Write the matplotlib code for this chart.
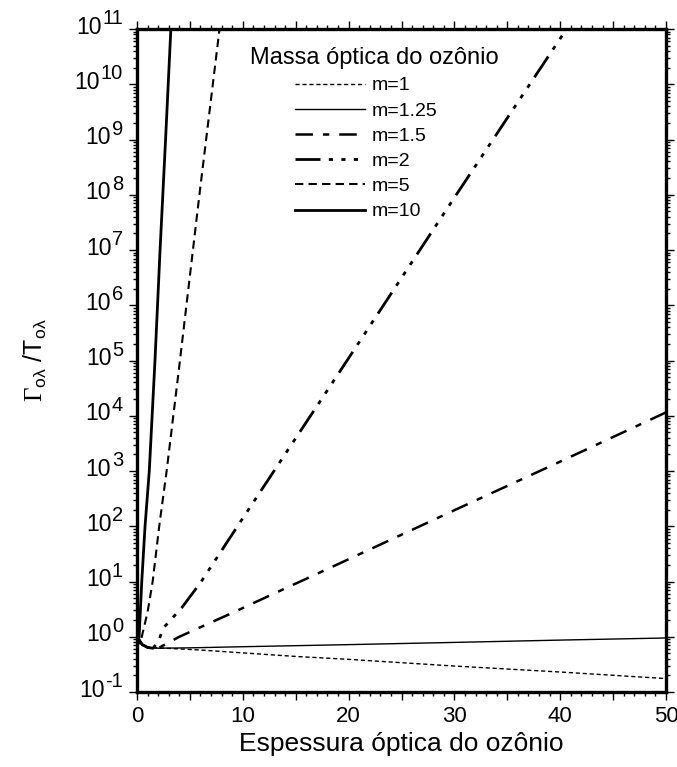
import matplotlib
matplotlib.use("Agg")
import matplotlib.pyplot as plt
from matplotlib.ticker import FixedLocator, FuncFormatter, LogLocator, NullFormatter

plt.rcParams["font.family"] = ["Liberation Sans", "DejaVu Sans"]
plt.rcParams["mathtext.fontset"] = "custom"
plt.rcParams["mathtext.rm"] = "Liberation Serif"
plt.rcParams["mathtext.sf"] = "Liberation Sans"
plt.rcParams["mathtext.it"] = "Liberation Sans"

# optical thickness (x) and ratio Gamma/T (y) for each ozone air mass
m1_x = [0, 0.5, 1, 2, 6, 15, 20, 30, 40, 50]
m1_y = [1.0, 0.72, 0.64, 0.63, 0.575, 0.44, 0.39, 0.295, 0.23, 0.175]

m125_x = [0, 0.5, 1, 2, 5, 10, 20, 30, 40, 50]
m125_y = [1.0, 0.72, 0.64, 0.62, 0.63, 0.66, 0.72, 0.79, 0.87, 0.95]

m15_x = [0, 0.5, 1, 2, 4, 9, 12.3, 18.6, 30, 40, 50]
m15_y = [1.0, 0.72, 0.64, 0.62, 1.0, 2.7, 5.3, 19, 195, 1480, 11500]

m2_x = [0, 0.5, 1, 1.5, 2, 2.5, 4.2, 6, 10, 20, 30, 40.6]
m2_y = [1.0, 0.72, 0.64, 0.62, 0.8, 1.45, 3.3, 9.5, 140, 1.1e5, 8.9e7, 1e11]

m5_x = [0, 0.3, 0.57, 1.0, 1.48, 2.1, 2.8, 4.0, 5.9, 7.8]
m5_y = [1.0, 0.75, 1.25, 2.8, 10, 100, 1e3, 8e4, 1e8, 1e11]

m10_x = [0, 0.1, 0.2, 0.45, 0.76, 1.16, 1.7, 2.18, 2.7, 3.2]
m10_y = [1.0, 0.8, 1.0, 10, 100, 1e3, 1e5, 1e7, 1e9, 1e11]

labels = ["m=1", "m=1.25", "m=1.5", "m=2", "m=5", "m=10"]
y_exponents = list(range(-1, 12))

series = [
    (m1_x, m1_y, dict(lw=1.0, dashes=(3, 2))),
    (m125_x, m125_y, dict(lw=1.0, ls="-")),
    (m15_x, m15_y, dict(lw=1.8, dashes=(7, 4, 2.5, 4))),
    (m2_x, m2_y, dict(lw=2.0, dashes=(9, 3, 1.5, 3, 1.5, 3, 1.5, 3))),
    (m5_x, m5_y, dict(lw=1.5, dashes=(4, 2.5))),
    (m10_x, m10_y, dict(lw=2.0, ls="-")),
]

fig = plt.figure(figsize=(6.77, 7.67), dpi=100)
ax = fig.add_axes([137 / 677, 1 - 692 / 767, 529 / 677, 663 / 767])

for (xs, ys, style), lab in zip(series, labels):
    ax.plot(xs, ys, color="black", label=lab, **style)

ax.set_yscale("log")
ax.set_xlim(0, 50)
ax.set_ylim(1e-1, 1e11)

ax.xaxis.set_major_locator(FixedLocator(list(range(0, 51, 5))))
ax.xaxis.set_minor_locator(FixedLocator(list(range(0, 51, 1))))
ax.xaxis.set_major_formatter(FuncFormatter(lambda v, p: f"{v:.0f}" if round(v) % 10 == 0 else ""))
ax.yaxis.set_major_locator(FixedLocator([10.0 ** e for e in y_exponents]))
ax.yaxis.set_minor_locator(LogLocator(base=10, subs=[2, 3, 4, 5, 6, 7, 8, 9], numticks=100))
ax.yaxis.set_major_formatter(NullFormatter())
ax.yaxis.set_minor_formatter(NullFormatter())

ax.tick_params(which="both", direction="out", top=True, right=True, width=1.0, color="black")
ax.tick_params(which="major", length=6)
ax.tick_params(which="minor", length=3)
ax.tick_params(axis="x", labelsize=16, pad=4)
for sp in ax.spines.values():
    sp.set_linewidth(2.4)

# y tick labels as "10" with a near full-size exponent
for e in y_exponents:
    exp_txt = ax.annotate(str(e).replace("-", "\u2010"), xy=(0, 10.0 ** e),
                          xycoords=("axes fraction", "data"), xytext=(-10, 3.5),
                          textcoords="offset points", ha="right", va="baseline",
                          fontsize=14.5)
    ax.annotate("10", xy=(0, 0), xycoords=exp_txt, xytext=(-0.5, -4.0),
                textcoords="offset points", ha="right", va="baseline", fontsize=16.5)

ax.set_xlabel("Espessura óptica do ozônio", fontsize=19, labelpad=4)
ax.set_ylabel(r"$\Gamma_{\mathsf{o\lambda}}$ /T$_{\mathsf{o\lambda}}$", fontsize=18, labelpad=54)

# legend title drawn on its own so the entries can sit left of its centre
ax.text(0.448, 0.956, "Massa óptica do ozônio", transform=ax.transAxes,
        ha="center", va="center", fontsize=17)
ax.legend(loc="upper left", bbox_to_anchor=(0.2987, 0.928), frameon=False,
          fontsize=14, handlelength=3.6, handletextpad=0.35,
          labelspacing=0.39, borderpad=0, borderaxespad=0)

fig.savefig("out.png", dpi=100)
